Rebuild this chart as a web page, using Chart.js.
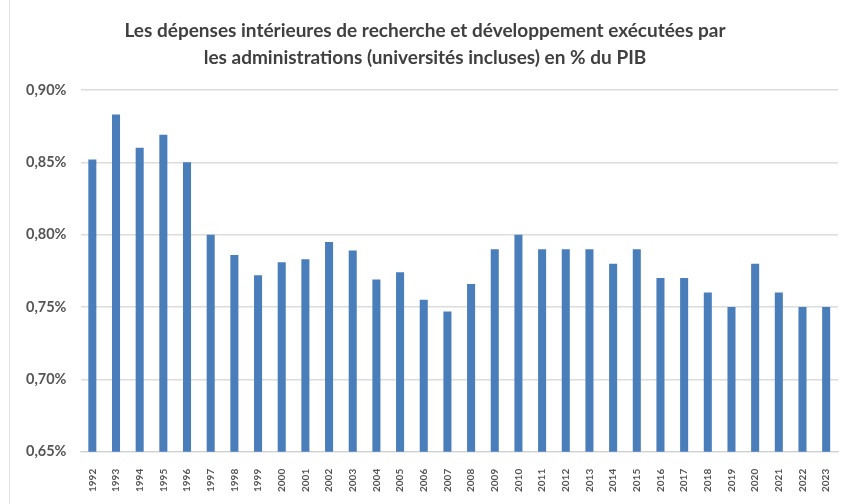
<!DOCTYPE html>
<html>
<head>
<meta charset="utf-8">
<script src="https://cdn.jsdelivr.net/npm/chart.js@4"></script>
<style>
  body { margin: 0; background: #fff; }
  #wrap { width: 848px; height: 504px; position: relative; }
  #wrap::before { content: ''; position: absolute; left: 9px; top: 0; bottom: 0; border-left: 1px solid #e2e2e2; }
</style>
</head>
<body>
<div id="wrap"><canvas id="graphique"></canvas></div>
<script>
// années
const annees = ['1992', '1993', '1994', '1995', '1996', '1997', '1998', '1999', '2000', '2001',
  '2002', '2003', '2004', '2005', '2006', '2007', '2008', '2009', '2010', '2011',
  '2012', '2013', '2014', '2015', '2016', '2017', '2018', '2019', '2020', '2021',
  '2022', '2023'];

// DIRD des administrations en % du PIB
const dirdAdm = [0.852, 0.883, 0.860, 0.869, 0.850, 0.800, 0.786, 0.772, 0.781, 0.783,
  0.795, 0.789, 0.769, 0.774, 0.755, 0.747, 0.766, 0.790, 0.800, 0.790,
  0.790, 0.790, 0.780, 0.790, 0.770, 0.770, 0.760, 0.750, 0.780, 0.760,
  0.750, 0.750];

const titre = ['Les dépenses intérieures de recherche et développement exécutées par',
  'les administrations (universités incluses) en % du PIB'];

const ctx = document.getElementById('graphique').getContext('2d');

const grafique = new Chart(ctx, {
  type: 'bar',
  data: {
    labels: annees,
    datasets: [{
      data: dirdAdm,
      backgroundColor: '#4a7ebb',
      barPercentage: 0.34,
      categoryPercentage: 1
    }]
  },
  options: {
    responsive: true,
    maintainAspectRatio: false,
    animation: false,
    layout: { padding: { left: 12, right: 10, top: 17, bottom: 3 } },
    plugins: {
      legend: { display: false },
      tooltip: { enabled: false },
      title: {
        display: true,
        text: titre,
        color: '#404040',
        font: { family: 'Lato', size: 19, weight: 'bold', lineHeight: 1.42 },
        padding: { top: 0, bottom: 19 }
      }
    },
    scales: {
      x: {
        grid: { display: false },
        border: { color: '#d0d0d0' },
        ticks: {
          color: '#555',
          font: { family: 'Lato', size: 10, weight: 'bold' },
          minRotation: 90,
          maxRotation: 90,
          padding: 9
        }
      },
      y: {
        min: 0.65,
        max: 0.90,
        border: { display: false },
        grid: { color: '#dcdcdc', lineWidth: 1.5, drawTicks: false },
        ticks: {
          stepSize: 0.05,
          color: '#555',
          padding: 14,
          font: { family: 'Lato', size: 14.5, weight: 'bold' },
          callback: v => v.toFixed(2).replace('.', ',') + '%'
        }
      }
    }
  }
});
</script>
</body>
</html>
